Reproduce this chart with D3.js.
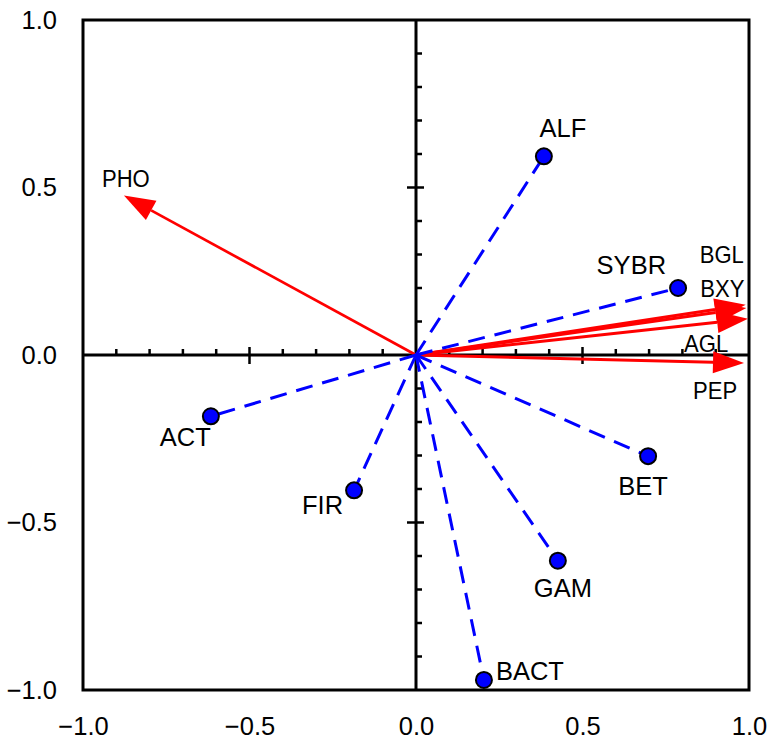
<!DOCTYPE html>
<html>
<head>
<meta charset="utf-8">
<script src="https://cdn.jsdelivr.net/npm/d3@7"></script>
<style>
  body { margin: 0; background: #fff; }
  svg { display: block; font-family: "Liberation Sans", Arial, sans-serif; }
</style>
</head>
<body>
<svg width="778" height="744"></svg>
<script>
// sample scores (blue points)
const pointNames = ["ALF", "SYBR", "BET", "GAM", "BACT", "FIR", "ACT"];
const pointX = [0.384, 0.787, 0.697, 0.426, 0.204, -0.186, -0.616];
const pointY = [0.593, 0.200, -0.302, -0.614, -0.970, -0.404, -0.183];

// variable loadings (red arrows)
const arrowNames = ["PHO", "BGL", "BXY", "AGL", "PEP"];
const arrowX = [-0.877, 0.990, 0.992, 0.997, 0.985];
const arrowY = [0.476, 0.150, 0.140, 0.108, -0.024];

const tickValues = [-1, -0.5, 0, 0.5, 1];
const minorTicks = [-0.9, -0.8, -0.7, -0.6, -0.5, -0.4, -0.3, -0.2, -0.1, 0.1, 0.2, 0.3, 0.4, 0.5, 0.6, 0.7, 0.8, 0.9];

// label placement (pixels from the mark)
const pointLabelPos = {
  ALF: [19, -19, "middle"], SYBR: [-12, -14, "end"], BET: [-5, 39, "middle"],
  GAM: [5, 36, "middle"], BACT: [12, 0, "start"], FIR: [-11, 24, "end"], ACT: [0, 30, "end"]
};
const arrowLabelPos = {
  PHO: [-22, -9], BGL: [-46, -42], BXY: [-46, -11], AGL: [-64, 33], PEP: [-51, 36]
};

const svg = d3.select("svg");
const x = d3.scaleLinear().domain([-1, 1]).range([83, 749]);
const y = d3.scaleLinear().domain([-1, 1]).range([690, 20]);
const fmt = d3.format(".1f");

// tick labels
svg.append("g")
  .attr("transform", `translate(${x(-1)},0)`)
  .call(d3.axisLeft(y).tickValues(tickValues).tickSize(0).tickPadding(26).tickFormat(fmt))
  .call(g => g.select(".domain").remove())
  .call(g => g.selectAll("text").attr("font-size", 25.5).attr("font-family", "Liberation Sans, Arial"));

svg.append("g")
  .attr("transform", `translate(0,${y(-1)})`)
  .call(d3.axisBottom(x).tickValues(tickValues).tickSize(0).tickPadding(27).tickFormat(fmt))
  .call(g => g.select(".domain").remove())
  .call(g => g.selectAll("text").attr("font-size", 25.5).attr("font-family", "Liberation Sans, Arial"));

// frame
svg.append("rect")
  .attr("x", x(-1)).attr("y", y(1))
  .attr("width", x(1) - x(-1)).attr("height", y(-1) - y(1))
  .attr("fill", "none").attr("stroke", "#000").attr("stroke-width", 3);

// centre axes
svg.append("line")
  .attr("x1", x(-1)).attr("x2", x(1)).attr("y1", y(0)).attr("y2", y(0))
  .attr("stroke", "#000").attr("stroke-width", 3);
svg.append("line")
  .attr("x1", x(0)).attr("x2", x(0)).attr("y1", y(1)).attr("y2", y(-1))
  .attr("stroke", "#000").attr("stroke-width", 3);

const isMajor = v => Math.abs(Math.abs(v) - 0.5) < 1e-9;

svg.append("g").selectAll("line")
  .data(minorTicks)
  .join("line")
  .attr("x1", d => x(d)).attr("x2", d => x(d))
  .attr("y1", d => isMajor(d) ? y(0) - 8 : y(0) - 6)
  .attr("y2", d => isMajor(d) ? y(0) + 9 : y(0))
  .attr("stroke", "#000").attr("stroke-width", 2.5);

svg.append("g").selectAll("line")
  .data(minorTicks)
  .join("line")
  .attr("y1", d => y(d)).attr("y2", d => y(d))
  .attr("x1", d => isMajor(d) ? x(0) - 9 : x(0))
  .attr("x2", d => isMajor(d) ? x(0) + 8 : x(0) + 6)
  .attr("stroke", "#000").attr("stroke-width", 2.5);

// red arrows
const arrows = arrowNames.map((n, i) => ({ name: n, vx: arrowX[i], vy: arrowY[i] }));
const headLen = 31, headHalf = 11;

const ag = svg.append("g").selectAll("g")
  .data(arrows)
  .join("g");

ag.each(function (d) {
  const x0 = x(0), y0 = y(0), x1 = x(d.vx), y1 = y(d.vy);
  const a = Math.atan2(y1 - y0, x1 - x0);
  const bx = x1 - headLen * Math.cos(a), by = y1 - headLen * Math.sin(a);
  const g = d3.select(this);
  g.append("line")
    .attr("x1", x0).attr("y1", y0).attr("x2", bx).attr("y2", by)
    .attr("stroke", "#ff0000").attr("stroke-width", d.name === "PHO" ? 2.7 : 3);
  const px = -Math.sin(a), py = Math.cos(a);
  g.append("path")
    .attr("d", `M${x1},${y1}L${bx + px * headHalf},${by + py * headHalf}L${bx - px * headHalf},${by - py * headHalf}Z`)
    .attr("fill", "#ff0000");
  const off = arrowLabelPos[d.name];
  g.append("text")
    .attr("transform", `translate(${x1 + off[0]},${y1 + off[1]}) scale(0.92,1)`)
    .attr("font-size", 24)
    .attr("fill", "#000")
    .text(d.name);
});

// blue dashed lines and points
const points = pointNames.map((n, i) => ({ name: n, vx: pointX[i], vy: pointY[i] }));

svg.append("g").selectAll("line")
  .data(points)
  .join("line")
  .attr("x1", x(0)).attr("y1", y(0))
  .attr("x2", d => x(d.vx)).attr("y2", d => y(d.vy))
  .attr("stroke", "#0000ff").attr("stroke-width", 3)
  .attr("stroke-dasharray", "17,10");

svg.append("g").selectAll("circle")
  .data(points)
  .join("circle")
  .attr("cx", d => x(d.vx)).attr("cy", d => y(d.vy))
  .attr("r", 8)
  .attr("fill", "#0000ff").attr("stroke", "#000").attr("stroke-width", 2);

svg.append("g").selectAll("text")
  .data(points)
  .join("text")
  .attr("x", d => x(d.vx) + pointLabelPos[d.name][0])
  .attr("y", d => y(d.vy) + pointLabelPos[d.name][1])
  .attr("text-anchor", d => pointLabelPos[d.name][2])
  .attr("font-size", 25.5)
  .attr("fill", "#000")
  .text(d => d.name);
</script>
</body>
</html>
